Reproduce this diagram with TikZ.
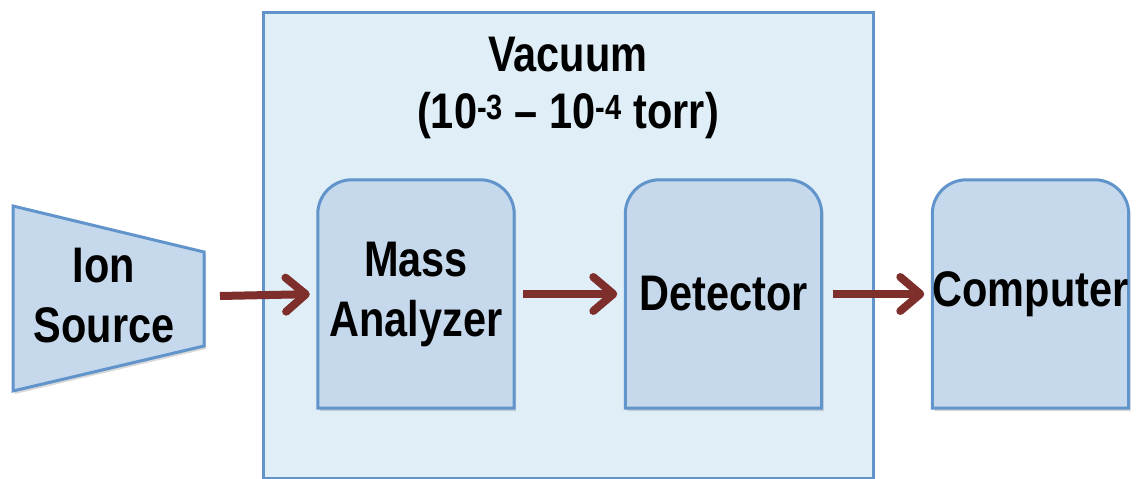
\documentclass[tikz,border=0pt]{standalone}
\usepackage{fontspec}
\setmainfont{Liberation Sans}[FakeStretch=0.83]
\usetikzlibrary{arrows.meta,shadows}
\definecolor{boxfill}{RGB}{198,217,236}
\definecolor{boxline}{RGB}{98,148,204}
\definecolor{vacfill}{RGB}{223,238,247}
\definecolor{flowred}{RGB}{126,47,44}
\tikzset{
  unit/.style={shape=rectangle, minimum width=196pt, minimum height=228pt, inner sep=0pt, align=center, font=\fontsize{50}{60}\selectfont\bfseries},
  unitshape/.style={fill=boxfill, draw=boxline, line width=3pt, drop shadow={opacity=0.3, shadow xshift=2pt, shadow yshift=-3pt}},
  flow/.style={line width=8pt, flowred, shorten >=8pt, -{Straight Barb[length=20pt,width=34pt,round]}}
}
\begin{document}
\begin{tikzpicture}[x=1pt, y=-1pt]
\useasboundingbox (0,0) rectangle (1144,479);

\draw[fill=vacfill, draw=boxline, line width=3pt] (263,12) rectangle (873,478);
\node[font=\fontsize{50}{57}\selectfont\bfseries, align=center] (vac) at (568,88) {Vacuum\\(10\textsuperscript{-3} -- 10\textsuperscript{-4} torr)};

\coordinate (s1) at (13,206);
\coordinate (s2) at (204,252);
\coordinate (s3) at (204,346);
\coordinate (s4) at (13,391);
\path[unitshape] (s1) -- (s2) -- (s3) -- (s4) -- cycle;
\node[unit, minimum width=0pt, minimum height=0pt] (src) at (104,296) {Ion\\Source};

\node[unit] (ma) at (416,294) {};
\node[unit] (det) at (723.5,294) {};
\node[unit] (comp) at (1030.5,294) {};
\path[unitshape] (ma.south west) [rounded corners=34pt] -- (ma.north west) -- (ma.north east) [sharp corners] -- (ma.south east) -- cycle;
\path[unitshape] (det.south west) [rounded corners=34pt] -- (det.north west) -- (det.north east) [sharp corners] -- (det.south east) -- cycle;
\path[unitshape] (comp.south west) [rounded corners=34pt] -- (comp.north west) -- (comp.north east) [sharp corners] -- (comp.south east) -- cycle;
\node[unit] at (ma) {Mass\\Analyzer};
\node[unit] at (det) {Detector};
\node[unit] at (comp) {Computer};

\draw[flow] (src.east -| s2) ++(16,0) -- (ma.west);
\draw[flow] (ma.east) ++(9,0) -- (det.west);
\draw[flow] (det.east) ++(11,0) -- (comp.west);
\end{tikzpicture}
\end{document}
